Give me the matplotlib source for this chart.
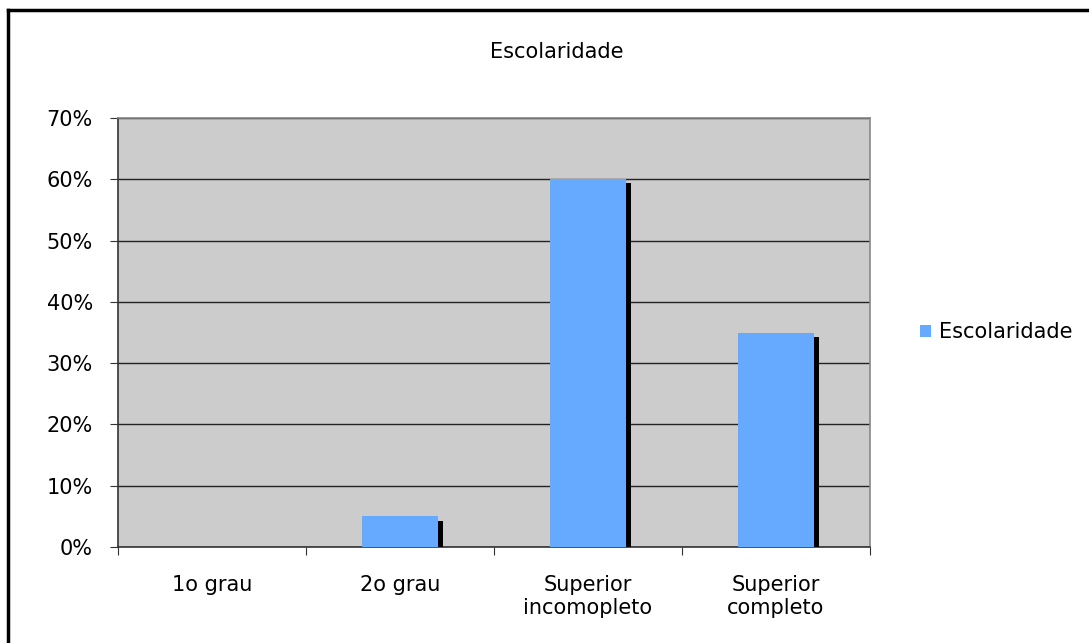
import numpy as np
import matplotlib.pyplot as plt
import matplotlib.patheffects as pe
from matplotlib.lines import Line2D
from matplotlib.ticker import FuncFormatter

plt.rcParams['font.family'] = ['DejaVu Sans']

# dados
categorias = ["1o grau", "2o grau", "Superior\nincomopleto", "Superior\ncompleto"]
valores = [0.0, 0.05, 0.60, 0.35]
serie = "Escolaridade"

fs = 15

fig = plt.figure(figsize=(10.89, 6.43), dpi=100)
ax = fig.add_axes([118 / 1089, 1 - 547 / 643, 752 / 1089, 429 / 643])

# fundo cinza e linhas de grade
ax.set_facecolor("#CCCCCC")
for s in ax.spines.values():
    s.set_color("#888888")
    s.set_linewidth(1.2)
ax.spines["bottom"].set_color("#333333")
ax.spines["left"].set_color("#333333")

x = np.arange(len(categorias))
ax.set_xlim(-0.5, len(categorias) - 0.5)
ax.set_ylim(0, 0.70)
ax.set_yticks(np.arange(0, 0.71, 0.10))
ax.yaxis.set_major_formatter(FuncFormatter(lambda v, p: "%d%%" % round(v * 100)))
ax.grid(axis="y", color="#222222", linewidth=1)
ax.set_axisbelow(True)

# barras com sombra preta
barras = ax.bar(x, valores, width=0.4, color="#66AAFF", label=serie, zorder=3)
for b in barras:
    if b.get_height() > 0:
        b.set_path_effects([pe.SimplePatchShadow(offset=(3.6, -3.0), shadow_rgbFace="black", alpha=1.0),
                            pe.Normal()])

# eixo x: ticks nos limites das categorias, rotulos no centro
ax.set_xticks(np.arange(-0.5, len(categorias), 1.0))
ax.set_xticklabels([])
ax.set_xticks(x, minor=True)
ax.set_xticklabels(categorias, minor=True, fontsize=fs, linespacing=1.2)
ax.tick_params(axis="x", which="minor", length=0, pad=20)
ax.tick_params(axis="x", which="major", length=6, direction="out", color="#333333")
ax.tick_params(axis="y", length=6, direction="out", color="#333333", labelsize=fs, pad=12)

fig.text(557 / 1089, 1 - 52 / 643, serie, fontsize=fs, ha="center", va="center")

leg = ax.legend(loc="center left", bbox_to_anchor=(1.055, 0.5), frameon=False, fontsize=fs,
                handlelength=0.55, handleheight=0.55, handletextpad=0.4, borderaxespad=0)

# moldura preta (esquerda e topo)
fig.add_artist(Line2D([8 / 1089, 8 / 1089], [0, 1 - 10 / 643], transform=fig.transFigure,
                      color="black", linewidth=2.5))
fig.add_artist(Line2D([8 / 1089, 1], [1 - 10 / 643, 1 - 10 / 643], transform=fig.transFigure,
                      color="black", linewidth=2.5))

fig.savefig("out.png", dpi=100)
